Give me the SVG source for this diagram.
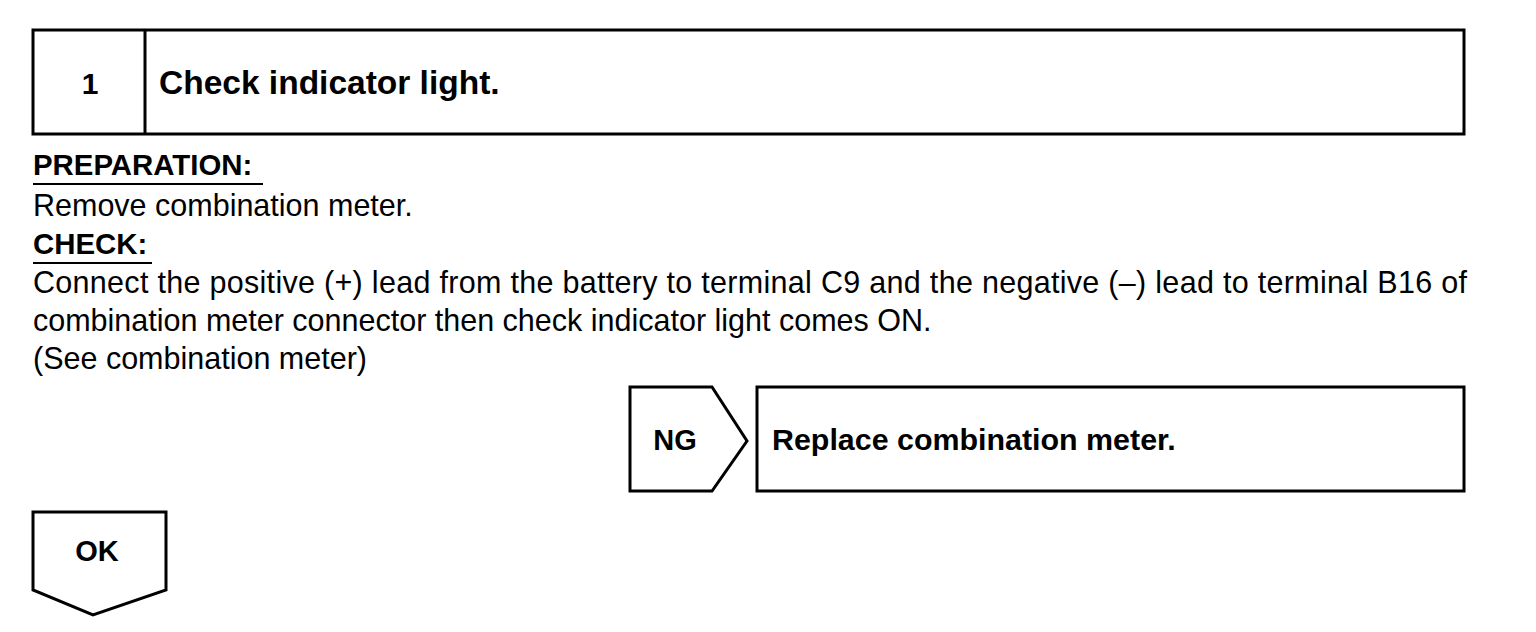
<svg xmlns="http://www.w3.org/2000/svg" width="1536" height="632" viewBox="0 0 1536 632">
<style>
  .box { fill: #fff; stroke: #000; stroke-width: 3; }
  .t { font-family: "Liberation Sans", Arial, sans-serif; fill: #000; }
  .b { font-weight: bold; }
  .body { font-size: 30.5px; }
  .ul { stroke: #000; stroke-width: 2; }
</style>
<rect width="1536" height="632" fill="#fff"/>
<g id="step1">
  <rect class="box" x="33" y="30" width="1431" height="104"/>
  <line class="ul" x1="145" y1="30" x2="145" y2="134" style="stroke-width:3"/>
  <text class="t b" x="90" y="94" font-size="30" text-anchor="middle">1</text>
  <text class="t b" x="159" y="94" font-size="33.5">Check indicator light.</text>
</g>
<g id="instructions">
  <text class="t b" x="33" y="175" font-size="29.4">PREPARATION:</text>
  <line class="ul" x1="33" y1="184" x2="263" y2="184"/>
  <text class="t body" x="33" y="216">Remove combination meter.</text>
  <text class="t b" x="33" y="254" font-size="29.4">CHECK:</text>
  <line class="ul" x1="33" y1="263" x2="152" y2="263"/>
  <text class="t body" x="33" y="293" textLength="1434" lengthAdjust="spacing">Connect the positive (+) lead from the battery to terminal C9 and the negative (–) lead to terminal B16 of</text>
  <text class="t body" x="33" y="331">combination meter connector then check indicator light comes ON.</text>
  <text class="t body" x="33" y="369">(See combination meter)</text>
</g>
<g id="ng">
  <polygon class="box" points="630,387 712,387 747,441 712,491 630,491"/>
  <text class="t b" x="675" y="450" font-size="29" text-anchor="middle">NG</text>
</g>
<g id="replace">
  <rect class="box" x="757" y="387" width="707" height="104"/>
  <text class="t b" x="772" y="450" font-size="30.4">Replace combination meter.</text>
</g>
<g id="ok">
  <polygon class="box" points="33,512 166,512 166,590 93,615 33,590"/>
  <text class="t b" x="97" y="561" font-size="29" text-anchor="middle">OK</text>
</g>
<g id="connectors"></g>
</svg>
